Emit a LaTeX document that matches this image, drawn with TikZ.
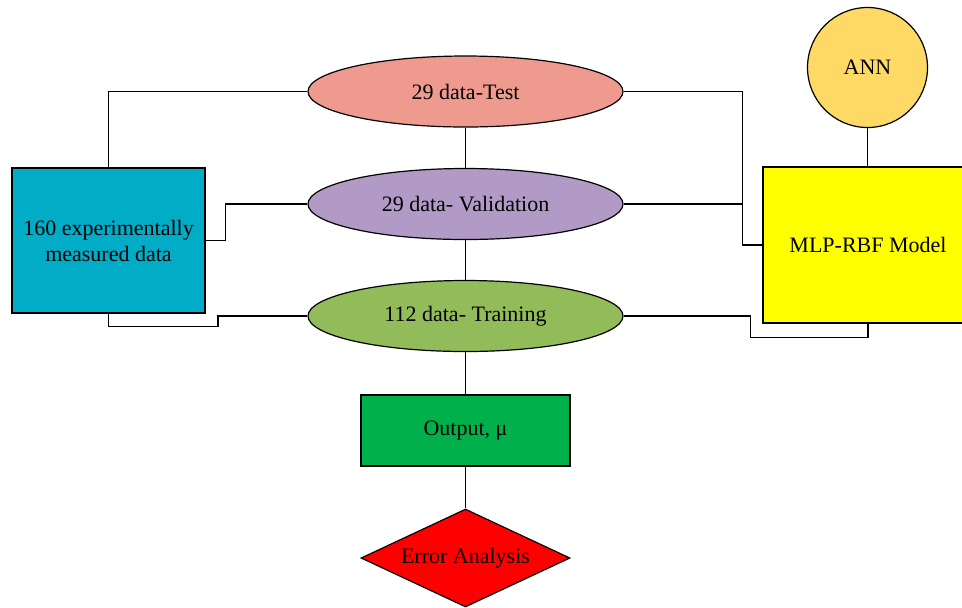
\documentclass[tikz,border=0pt]{standalone}
\usepackage{fontspec}
\setmainfont{Liberation Serif}
\usetikzlibrary{shapes,arrows}

\definecolor{testred}{HTML}{EF9A8F}
\definecolor{validlilac}{HTML}{B29AC6}
\definecolor{trainolive}{HTML}{92BB5A}
\definecolor{datateal}{HTML}{00ACC6}
\definecolor{anngold}{HTML}{FFD966}
\definecolor{mlpyellow}{HTML}{FFFF00}
\definecolor{outgreen}{HTML}{00B14B}
\definecolor{errred}{HTML}{FF0000}

\begin{document}
\begin{tikzpicture}[x=0.5pt,y=-0.5pt,line width=0.6pt,
    font=\fontsize{11}{13}\selectfont,
    oval/.style={ellipse,draw,inner sep=0pt,minimum width=157.5pt,minimum height=35.5pt},
    box/.style={rectangle,draw,inner sep=0pt,align=center}]
          \useasboundingbox (0,0) rectangle (962,607);
          \node[oval,fill=testred] (test) at (465.5,91.5) {29 data-Test};
          \node[oval,fill=validlilac] (valid) at (465.5,204) {29 data- Validation};
          \node[oval,fill=trainolive] (train) at (465.5,316) {112 data- Training};
          \node[box,fill=datateal,minimum width=96.5pt,minimum height=72.5pt] (data) at (108.5,240.5) {160 experimentally\\measured data};
          \node[circle,draw,fill=anngold,inner sep=0pt,minimum size=60pt] (ann) at (867.5,67.5) {ANN};
          \node[box,fill=mlpyellow,minimum width=105pt,minimum height=78pt] (mlp) at (868,245) {MLP-RBF Model};
          \node[box,fill=outgreen,minimum width=104.5pt,minimum height=35.5pt] (out) at (465.5,430.5) {Output, μ};
          \node[diamond,draw,fill=errred,aspect=2.13,inner sep=0pt,minimum width=104.5pt,minimum height=49pt] (err) at (465.5,558) {Error Analysis};
          \draw (test) -- (valid) -- (train) -- (out) -- (err);
          \draw (ann.south) -- (ann.south |- mlp.north);
          \draw (data.north) |- (test.west);
          \draw (data.east) -- ++(20,0) |- (valid.west);
          \draw (data.south) -- ++(0,13) -- ++(109.5,0) |- (train.west);
          \draw (test.east) -| ([xshift=-10pt]mlp.west) -- (mlp.west);
          \draw (valid.east) -- ([xshift=-10pt]mlp.west |- valid.east);
          \draw (train.east) -- ++(127,0) |- ([yshift=-7pt]mlp.south) -- (mlp.south);
        \end{tikzpicture}
\end{document}
